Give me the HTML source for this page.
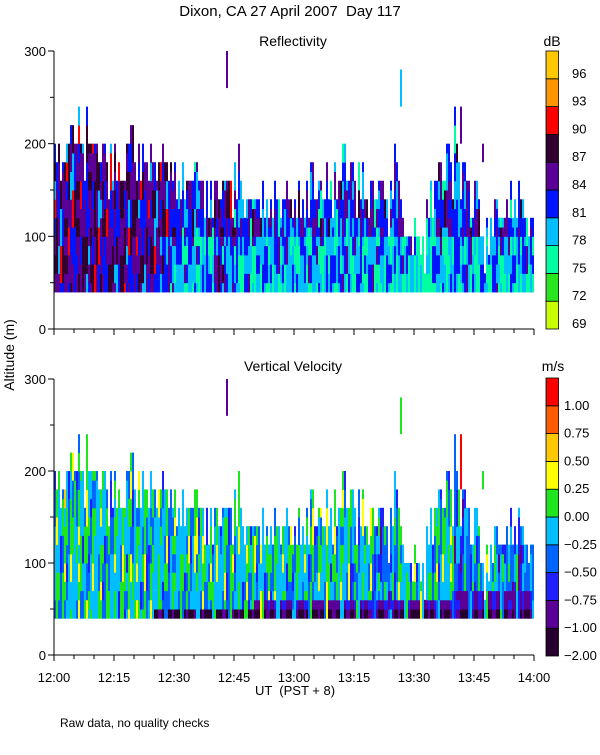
<!DOCTYPE html>
<html><head><meta charset="utf-8"><style>
body{margin:0;background:#fff;}
svg text{font-family:"Liberation Sans",sans-serif;fill:#000;}
</style></head><body>
<svg id="c" width="600" height="750" xmlns="http://www.w3.org/2000/svg">
<text x="290" y="16" font-size="15" text-anchor="middle" xml:space="preserve">Dixon, CA 27 April 2007  Day 117</text>
<text x="293" y="46" font-size="14" text-anchor="middle">Reflectivity</text>
<text x="293" y="371" font-size="14" text-anchor="middle">Vertical Velocity</text>
<text x="552" y="46" font-size="14" text-anchor="middle">dB</text>
<text x="553" y="371" font-size="14" text-anchor="middle">m/s</text>
<text transform="translate(14,355) rotate(-90)" font-size="14" text-anchor="middle">Altitude (m)</text>
<text x="295" y="695" font-size="13" text-anchor="middle" xml:space="preserve">UT  (PST + 8)</text>
<text x="60" y="727" font-size="12">Raw data, no quality checks</text>
<g id="g"></g>
</svg>
<script>
const tops=[200,200,180,200,220,200,240,200,240,200,200,180,200,180,200,200,180,160,200,220,180,200,200,180,200,180,180,200,180,180,180,160,180,160,160,180,160,160,160,160,160,140,160,160,160,180,200,140,140,140,140,140,160,140,140,160,140,140,160,140,140,160,140,160,180,140,160,140,180,160,180,160,200,160,180,160,180,180,140,160,140,160,160,140,160,200,160,120,100,100,120,100,100,140,160,160,180,160,200,180,240,180,180,160,120,160,140,100,120,120,140,120,120,140,160,140,160,140,120,120];
const reflBlocks=[5,5,5,5,5,5,4,4,5,4,4,4,4,4,4,4,4,4,3,4,4,4,4,4];
const velBlocks=[4,4,4,4,4,4,4,4,4,4,4,4,4,4,4,4,3,4,4,4,3,4,3,3];
const darkBins=[0,0,0,0,0,1,1,1,1,1,2,2,2,2,2,2,2,2,2,2,3,3,3,3];
const texture=[0,1,-1,0,-1,1,0,0,2,-1,0,1,-2,0,1,-1,0,0,1,-1,2,0,-1,1,0,-2,1,0,0,-1,1];
const reflPlumes=[[43,260,300,5],[86.5,240,280,3],[101.5,200,240,5],[107,180,200,5]];
const velPlumes=[[43,260,300,1],[86.5,240,280,5],[101.5,180,240,9],[107,180,200,5]];
const reflColors=["#c8ff00","#28e61e","#00ffa0","#00beff","#0014ff","#5a0096","#32002f","#ff0000","#ff9600","#ffc800"];
const reflLabels=["69","72","75","78","81","84","87","90","93","96"];
const velColors=["#28002f","#5a0096","#1e1eff","#0064ff","#00beff","#1ee61e","#ffff00","#ffc800","#ff5a00","#ff0000"];
const velLabels=["-2.00","-1.00","-0.75","-0.50","-0.25","0.00","0.25","0.50","0.75","1.00"];
const yAxisTicks=[0,100,200,300];
const xTickLabels=["12:00","12:15","12:30","12:45","13:00","13:15","13:30","13:45","14:00"];

const NS="http://www.w3.org/2000/svg";
const G=document.getElementById('g');
const X=m=>54+m*4;
const Y1=a=>329-a*278/300;
const Y2=a=>655-a*276/300;
function el(t,at){const e=document.createElementNS(NS,t);for(const k in at)e.setAttribute(k,at[k]);G.appendChild(e);return e;}
const clamp=(v,lo,hi)=>Math.max(lo,Math.min(hi,v));
const T=i=>texture[((i%texture.length)+texture.length)%texture.length];

for(let m=0;m<tops.length;m++){
  const b=Math.floor(m/5);
  for(let s=0;s<2;s++){
    const top=s===0?tops[m]:Math.max(60,tops[m]-20*(T(m*3+1)>0?1:(T(m*3+1)<0?2:0)));
    for(let a=40;a<top;a+=10){
      const bin=(a-40)/10;
      const run=Math.floor((bin+T(m+s))/ (2+ (m+s)%3));
      const t=T(m*7+s*13+run*5);
      const low=(m>25&&bin<6)?-1:0;
      let lr=clamp(reflBlocks[b]+t+low,2,7);
      let r=el('rect',{x:X(m)+s*2,y:Y1(a+10),width:2,height:Y1(a)-Y1(a+10)+0.5,fill:reflColors[lr]});
      
      
      const tv=T(m*11+s*7+run*3+4);
      let lv=(bin<darkBins[b]&&(m+s)%4!==0)?clamp(1+(tv>0?1:0)-(bin===0?1:0),0,9):clamp(velBlocks[b]+tv+(T(m+run)>1?1:0),1,9);
      let v=el('rect',{x:X(m)+s*2,y:Y2(a+10),width:2,height:Y2(a)-Y2(a+10)+0.5,fill:velColors[lv]});
      
      
    }
  }
}
reflPlumes.forEach(p=>{const r=el('rect',{x:X(p[0]),y:Y1(p[2]),width:2,height:Y1(p[1])-Y1(p[2]),fill:reflColors[p[3]]});

});
velPlumes.forEach(p=>{const r=el('rect',{x:X(p[0]),y:Y2(p[2]),width:2,height:Y2(p[1])-Y2(p[2]),fill:velColors[p[3]]});

});

[[Y1,'top'],[Y2,'bottom']].forEach(([Y,n])=>{
  let l=el('path',{d:`M54 ${Y(300)}V${Y(0)}H534`,stroke:'#000',fill:'none','stroke-width':1});
  
  
  for(let a=0;a<=300;a+=50){el('line',{x1:a%100?50:48,x2:54,y1:Y(a),y2:Y(a),stroke:'#000'});}
  yAxisTicks.forEach(a=>{const t=el('text',{x:46,y:Y(a)+5,'font-size':13,'text-anchor':'end'});t.textContent=a;
  
  });
  for(let m=0;m<=120;m+=5){el('line',{x1:X(m),x2:X(m),y1:Y(0),y2:Y(0)+(m%15?4:6),stroke:'#000'});}
});
xTickLabels.forEach((s,i)=>{const t=el('text',{x:X(i*15),y:682,'font-size':13,'text-anchor':'middle'});t.textContent=s;

});

const segR=278/10;
reflColors.forEach((c,i)=>{const y=329-(i+1)*segR;
  const r=el('rect',{x:546,y:y,width:12.5,height:segR,fill:c,stroke:'#000','stroke-width':0.8});
  
  
  const t=el('text',{x:572,y:y+segR-1,'font-size':13});t.textContent=reflLabels[i];
  
  });
const segV=27.8;
velColors.forEach((c,i)=>{const y=656-(i+1)*segV;
  const r=el('rect',{x:546,y:y,width:12.5,height:segV,fill:c,stroke:'#000','stroke-width':0.8});
  
  
  const t=el('text',{x:564,y:y+segV+4,'font-size':13});t.textContent=velLabels[i].replace('-','\u2212');
  
  });
</script>
</body></html>
